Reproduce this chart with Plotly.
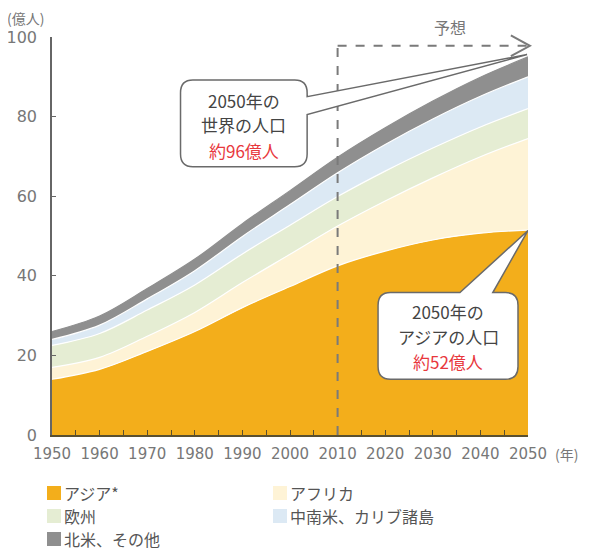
import plotly.graph_objects as go

years = [1950, 1960, 1970, 1980, 1990, 2000, 2010, 2020, 2030, 2040, 2050]
asia = [14.0, 16.5, 21.0, 26.0, 32.0, 37.3, 42.5, 46.2, 49.0, 50.7, 51.5]
africa = [3.0, 3.0, 3.8, 4.8, 6.3, 8.1, 10.0, 12.6, 15.6, 19.2, 23.0]
europe = [5.5, 6.0, 6.6, 6.9, 7.2, 7.3, 7.4, 7.5, 7.5, 7.5, 7.5]
latam = [1.5, 2.1, 2.8, 3.6, 4.4, 5.2, 6.0, 6.7, 7.3, 7.7, 8.0]
namer = [2.0, 2.3, 2.6, 2.9, 3.2, 3.5, 3.9, 4.2, 4.5, 4.8, 5.0]

series_names = ["アジア*", "アフリカ", "欧州", "中南米、カリブ諸島", "北米、その他"]
series_values = [asia, africa, europe, latam, namer]
series_colors = ["#F3AE1B", "#FEF3D6", "#E5EDD3", "#DCE9F4", "#8F8F8F"]

x_ticks = [1950, 1960, 1970, 1980, 1990, 2000, 2010, 2020, 2030, 2040, 2050]
y_ticks = [0, 20, 40, 60, 80, 100]

X0, X1 = 1950, 2050
Y0, Y1 = 0, 100

# page offset (body margin of the html page)
OFF = 8
PL, PR, PT, PB = 52, 528, 37, 435  # plot area in page pixels
PW, PH = PR - PL, PB - PT


def px(year):
    return (year - X0) / (X1 - X0)


def py(v):
    return (v - Y0) / (Y1 - Y0)


def ppx(x):
    return (x - PL) / PW


def ppy(y):
    return (PB - y) / PH


fig = go.Figure()
for name, vals, col in zip(series_names, series_values, series_colors):
    fig.add_trace(go.Scatter(
        x=years, y=vals, name=name, stackgroup="one", mode="lines",
        line=dict(shape="spline", smoothing=1.0, width=1.2,
                  color="#FFFFFF" if col != "#8F8F8F" else col),
        fillcolor=col, showlegend=False, hoverinfo="skip",
    ))

shapes = []
annotations = []

# forecast dashed frame
dash_col = "#7A7A7A"
shapes.append(dict(type="line", xref="paper", yref="paper",
                   x0=px(2010), x1=px(2010), y0=py(0), y1=py(97.8),
                   line=dict(color=dash_col, width=2, dash="dash")))
shapes.append(dict(type="line", xref="paper", yref="paper",
                   x0=px(2010), x1=px(2050), y0=py(97.8), y1=py(97.8),
                   line=dict(color=dash_col, width=2, dash="dash")))
shapes.append(dict(type="path", xref="paper", yref="paper",
                   path=f"M {px(2046.4)} {py(100.4)} L {px(2050.4)} {py(97.8)} L {px(2046.4)} {py(95.2)}",
                   line=dict(color=dash_col, width=2)))
annotations.append(dict(xref="paper", yref="paper", x=ppx(450), y=ppy(27),
                        xanchor="center", yanchor="middle",
                        text="予想", showarrow=False,
                        font=dict(family="Noto Sans CJK JP", size=16, color="#777")))


def callout(x0, x1, y0, y1, rx, ry, tail, where):
    ta, tip, tb = tail
    p = f"M {x0+rx} {y1} "
    if where == "top":
        p += f"L {ta} {y1} L {tip[0]} {tip[1]} L {tb} {y1} "
    p += f"L {x1-rx} {y1} Q {x1} {y1} {x1} {y1-ry} "
    if where == "right":
        p += f"L {x1} {ta} L {tip[0]} {tip[1]} L {x1} {tb} "
    p += f"L {x1} {y0+ry} Q {x1} {y0} {x1-rx} {y0} "
    p += f"L {x0+rx} {y0} Q {x0} {y0} {x0} {y0+ry} "
    p += f"L {x0} {y1-ry} Q {x0} {y1} {x0+rx} {y1} Z"
    return p


box_line = dict(color="#6A6A6A", width=1.5)
shapes.append(dict(type="path", xref="x", yref="y", fillcolor="white", line=box_line,
                   path=callout(1977.0, 2003.6, 67.4, 89.2, 2.6, 3.2,
                                (85.0, (2049.8, 95.6), 80.5), "right")))
shapes.append(dict(type="path", xref="x", yref="y", fillcolor="white", line=box_line,
                   path=callout(2018.5, 2047.9, 14.0, 35.8, 2.6, 3.2,
                                (2035.7, (2050.0, 51.4), 2042.6), "top")))

txt_font = dict(family="Noto Sans CJK JP", size=17, color="#444")
red_font = dict(family="Noto Sans CJK JP", size=17, color="#E8383D")
for (xc, lines) in [(1990.3, [(84.0, "2050年の", txt_font), (78.0, "世界の人口", txt_font), (71.5, "約96億人", red_font)]),
                    (2033.2, [(31.0, "2050年の", txt_font), (24.8, "アジアの人口", txt_font), (18.5, "約52億人", red_font)])]:
    for (yv, t, f) in lines:
        annotations.append(dict(xref="x", yref="y", x=xc, y=yv, text=t,
                                xanchor="center", yanchor="middle",
                                showarrow=False, font=f))

# axis unit labels
annotations.append(dict(xref="paper", yref="paper", x=ppx(25), y=ppy(18), text="(億人)",
                        xanchor="center", yanchor="middle",
                        showarrow=False, font=dict(family="Noto Sans CJK JP", size=14, color="#777")))
annotations.append(dict(xref="paper", yref="paper", x=ppx(553), y=ppy(454), text="(年)",
                        xanchor="left", yanchor="middle",
                        showarrow=False, font=dict(family="Noto Sans CJK JP", size=14, color="#777")))

# legend (two columns)
leg_pos = [(47, 493), (273, 493), (47, 516), (273, 516), (47, 539)]
for (lx, ly), i in zip(leg_pos, range(len(series_names))):
    shapes.append(dict(type="rect", xref="paper", yref="paper",
                       x0=ppx(lx), x1=ppx(lx + 14), y0=ppy(ly + 7), y1=ppy(ly - 7),
                       fillcolor=series_colors[i], line=dict(width=0)))
    annotations.append(dict(xref="paper", yref="paper", x=ppx(lx + 15),
                            y=ppy(ly), xanchor="left", yanchor="middle",
                            text=series_names[i], showarrow=False,
                            font=dict(family="Noto Sans CJK JP", size=16, color="#555")))

W, H = 593 - OFF, 552 - OFF
fig.update_layout(
    width=W, height=H,
    margin=dict(l=PL - OFF, r=W - (PR - OFF), t=PT - OFF, b=H - (PB - OFF), autoexpand=False),
    paper_bgcolor="white", plot_bgcolor="white",
    showlegend=False,
    shapes=shapes, annotations=annotations,
    xaxis=dict(range=[X0, X1], tickvals=x_ticks, ticktext=[str(v) for v in x_ticks],
               ticks="inside", ticklen=5, tickcolor="#5A5030", tickwidth=1,
               minor=dict(dtick=5, tick0=1950, ticks="inside", ticklen=5, tickcolor="#5A5030"),
               showline=True, linecolor="#5A5030", linewidth=1.5, showgrid=False, zeroline=False,
               ticklabelstandoff=4,
               tickfont=dict(family="DejaVu Sans", size=15, color="#777")),
    yaxis=dict(range=[Y0, Y1], tickvals=y_ticks, ticks="inside", ticklen=4,
               tickcolor="#666", showline=True, linecolor="#666", linewidth=1.5,
               showgrid=False, zeroline=False, ticklabelstandoff=10,
               tickfont=dict(family="DejaVu Sans", size=16, color="#777")),
)

fig.write_html("out.html")
